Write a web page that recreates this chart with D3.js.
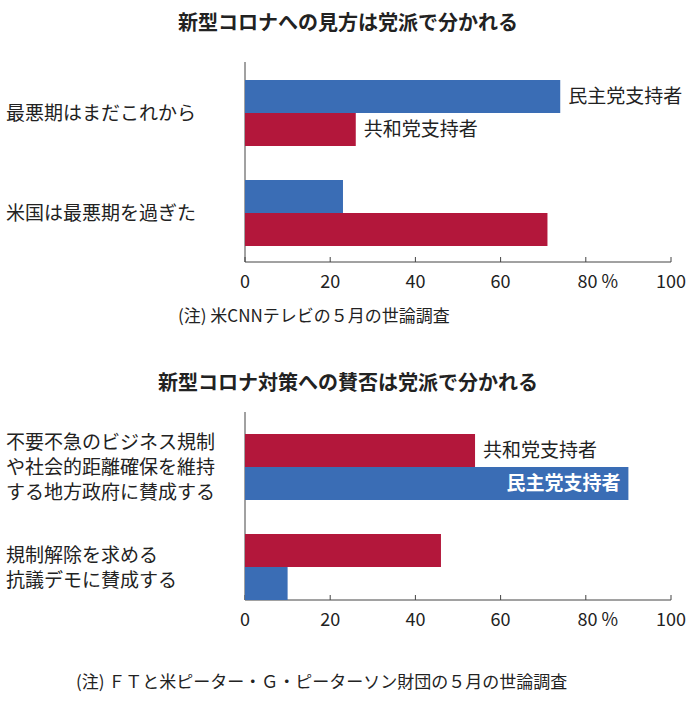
<!DOCTYPE html>
<html><head><meta charset="utf-8">
<script src="https://cdn.jsdelivr.net/npm/d3@7"></script>
<style>body{margin:0;background:#fff}text{font-family:"Noto Sans CJK JP",sans-serif;fill:#222}</style>
</head><body><div id="chart"></div>
<script>
const ticks = [0, 20, 40, 60, 80, 100];
const tickLabels = ['0', '20', '40', '60', '80 %', '100'];

const cats1 = ['最悪期はまだこれから', '米国は最悪期を過ぎた'];
const dem1 = [74, 23];
const rep1 = [26, 71];

const cats2 = [['不要不急のビジネス規制', 'や社会的距離確保を維持', 'する地方政府に賛成する'], ['規制解除を求める', '抗議デモに賛成する']];
const rep2 = [54, 46];
const dem2 = [90, 10];

const BLUE = '#3a6db5', RED = '#b3173b';

const svg = d3.select('#chart').append('svg').attr('width', 696).attr('height', 708);
const x = d3.scaleLinear().domain([0, 100]).range([245, 671]);

function panel(o) {
  const g = svg.append('g');
  g.append('text').attr('x', 348).attr('y', o.titleY).attr('text-anchor', 'middle')
    .style('font-size', '20px').style('font-weight', 'bold').text(o.title);
  // axes
  g.append('line').attr('x1', x(0)).attr('x2', x(0)).attr('y1', o.top).attr('y2', o.axisY).attr('stroke', '#444');
  g.append('line').attr('x1', x(0)).attr('x2', x(100)).attr('y1', o.axisY).attr('y2', o.axisY).attr('stroke', '#444');
  ticks.forEach((t, i) => {
    g.append('line').attr('x1', x(t)).attr('x2', x(t)).attr('y1', o.axisY - 5).attr('y2', o.axisY).attr('stroke', '#444');
    g.append('text').attr('x', x(t) + (i === 4 ? 12 : 0)).attr('y', o.axisY + 26).attr('text-anchor', 'middle')
      .style('font-size', '18px').text(tickLabels[i]);
  });
  o.rows.forEach((r, i) => {
    const y0 = o.rowY[i];
    r.bars.forEach((b, j) => {
      g.append('rect').attr('x', x(0)).attr('y', y0 + j * 33).attr('width', x(b.v) - x(0)).attr('height', 33).attr('fill', b.c);
      if (b.label) {
        const inside = b.inside;
        g.append('text').attr('x', inside ? x(b.v) - 8 : x(b.v) + 8).attr('y', y0 + j * 33 + 23)
          .attr('text-anchor', inside ? 'end' : 'start').style('font-size', '19px')
          .style('font-weight', inside ? 'bold' : 'normal').style('fill', inside ? '#fff' : '#222').text(b.label);
      }
    });
    const lines = Array.isArray(r.cat) ? r.cat : [r.cat];
    const cy = y0 + 33 - (lines.length - 1) * 12.5;
    lines.forEach((l, k) => g.append('text').attr('x', 6).attr('y', cy + k * 25 + 7).style('font-size', '19px').text(l));
  });
  g.append('text').attr('x', o.noteX).attr('y', o.noteY).style('font-size', '17px').text(o.note);
}

panel({
  title: '新型コロナへの見方は党派で分かれる', titleY: 30, top: 62, axisY: 262,
  rowY: [80, 180],
  rows: cats1.map((c, i) => ({ cat: c, bars: [
    { v: dem1[i], c: BLUE, label: i === 0 ? '民主党支持者' : null },
    { v: rep1[i], c: RED, label: i === 0 ? '共和党支持者' : null }] })),
  note: '(注) 米CNNテレビの５月の世論調査', noteX: 178, noteY: 322
});

panel({
  title: '新型コロナ対策への賛否は党派で分かれる', titleY: 390, top: 412, axisY: 600,
  rowY: [434, 534],
  rows: cats2.map((c, i) => ({ cat: c, bars: [
    { v: rep2[i], c: RED, label: i === 0 ? '共和党支持者' : null },
    { v: dem2[i], c: BLUE, label: i === 0 ? '民主党支持者' : null, inside: true }] })),
  note: '(注) ＦＴと米ピーター・Ｇ・ピーターソン財団の５月の世論調査', noteX: 76, noteY: 688
});
</script></body></html>
